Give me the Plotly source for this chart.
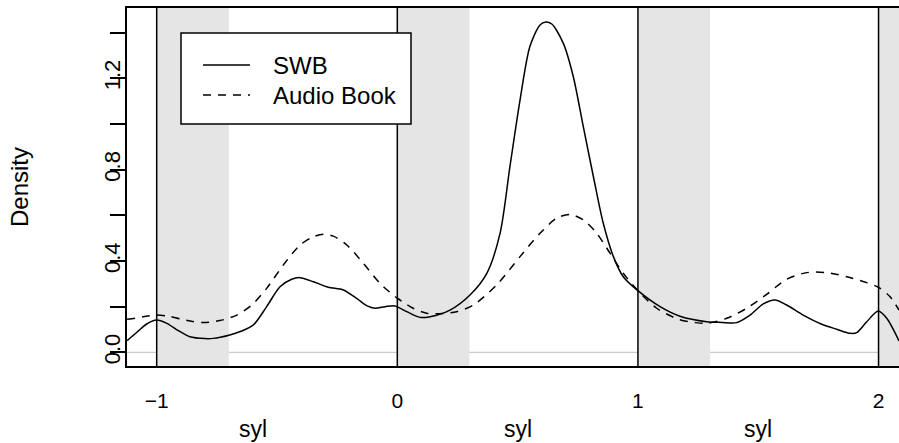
import plotly.graph_objects as go

# ---- data ----
swb_x = [-1.123, -1.08, -1.04, -1.0, -0.96, -0.91, -0.862, -0.80, -0.765, -0.70, -0.65,
         -0.598, -0.543, -0.4875, -0.439, -0.404, -0.349, -0.287, -0.224, -0.169, -0.125,
         -0.093, -0.05, -0.01, 0.039, 0.094, 0.136, 0.219, 0.302, 0.372, 0.427, 0.468,
         0.51, 0.551, 0.593, 0.617, 0.642, 0.69, 0.7315, 0.773, 0.815, 0.856, 0.898,
         0.939, 1.0, 1.092, 1.175, 1.286, 1.35, 1.41, 1.466, 1.521, 1.57, 1.618, 1.687,
         1.764, 1.826, 1.882, 1.909, 1.951, 1.999, 2.034, 2.085]
swb_y = [0.051, 0.09, 0.125, 0.141, 0.128, 0.095, 0.068, 0.060, 0.061, 0.075, 0.092,
         0.12, 0.2, 0.287, 0.32, 0.327, 0.309, 0.285, 0.273, 0.236, 0.203,
         0.193, 0.2, 0.203, 0.178, 0.153, 0.156, 0.185, 0.251, 0.346, 0.521, 0.813,
         1.105, 1.339, 1.434, 1.447, 1.438, 1.353, 1.207, 0.988, 0.769, 0.565, 0.419,
         0.331, 0.27, 0.2, 0.158, 0.134, 0.131, 0.13, 0.163, 0.212, 0.229, 0.207, 0.163,
         0.123, 0.101, 0.083, 0.086, 0.134, 0.181, 0.149, 0.05]

ab_x = [-1.123, -1.09, -1.05, -1.0, -0.95, -0.903, -0.85, -0.806, -0.737, -0.667,
        -0.605, -0.543, -0.474, -0.404, -0.349, -0.307, -0.266, -0.21, -0.141, -0.072,
        0.0, 0.066, 0.122, 0.19, 0.247, 0.316, 0.413, 0.51, 0.593, 0.662, 0.718, 0.773,
        0.829, 0.884, 0.939, 1.0, 1.078, 1.168, 1.24, 1.286, 1.369, 1.452, 1.535, 1.618,
        1.702, 1.785, 1.868, 1.951, 1.999, 2.047, 2.085]
ab_y = [0.145, 0.149, 0.157, 0.163, 0.158, 0.146, 0.135, 0.13, 0.139, 0.163,
        0.207, 0.28, 0.382, 0.47, 0.506, 0.517, 0.509, 0.47, 0.39, 0.302,
        0.237, 0.193, 0.171, 0.17, 0.178, 0.207, 0.295, 0.419, 0.521, 0.587, 0.604, 0.58,
        0.521, 0.434, 0.346, 0.27, 0.193, 0.145, 0.13, 0.127, 0.149, 0.193, 0.254, 0.32,
        0.349, 0.349, 0.331, 0.305, 0.285, 0.244, 0.185]

series_names = ["SWB", "Audio Book"]
syllable_bounds = [-1, 0, 1, 2]
band_width = 0.3
x_tick_vals = [-1, 0, 1, 2]
x_tick_text = ["\u22121", "0", "1", "2"]
y_tick_vals = [0.0, 0.2, 0.4, 0.6, 0.8, 1.0, 1.2, 1.4]
y_tick_text = ["0.0", "", "0.4", "", "0.8", "", "1.2", ""]
syl_label_pos = [-0.6, 0.5, 1.5]
syl_label_text = ["syl", "syl", "syl"]

FONT = "Liberation Sans, Arial, Helvetica, sans-serif"
W, H = 899, 443
ML, MR, MT, MB = 127, 0, 8, 77
PW, PH = W - ML - MR, H - MT - MB


def px_x(p):  # pixel -> paper x
    return (p - ML) / PW


def px_y(p):  # pixel -> paper y
    return (H - MB - p) / PH


dashes = ["solid", "8px,7px"]

fig = go.Figure()
fig.add_trace(go.Scatter(x=swb_x, y=swb_y, mode="lines", name=series_names[0], showlegend=False,
                         line=dict(color="black", width=1.5, dash=dashes[0],
                                   shape="spline", smoothing=0.8)))
fig.add_trace(go.Scatter(x=ab_x, y=ab_y, mode="lines", name=series_names[1], showlegend=False,
                         line=dict(color="black", width=1.5, dash=dashes[1],
                                   shape="spline", smoothing=0.8)))

shapes = []
# grey horizontal reference line at 0 (drawn first, covered by bands)
shapes.append(dict(type="line", xref="x domain", yref="y", x0=0, x1=1, y0=0, y1=0,
                   line=dict(color="#bebebe", width=1), layer="below"))
for b in syllable_bounds:
    shapes.append(dict(type="rect", xref="x", yref="y domain", x0=b, x1=b + band_width,
                       y0=0, y1=1, fillcolor="#e5e5e5", line=dict(width=0), layer="below"))
for b in syllable_bounds:
    shapes.append(dict(type="line", xref="x", yref="y domain", x0=b, x1=b, y0=0, y1=1,
                       line=dict(color="black", width=1.5), layer="below"))

# legend box (R-style) drawn on top
shapes.append(dict(type="rect", xref="paper", yref="paper",
                   x0=px_x(181), x1=px_x(411), y0=px_y(124), y1=px_y(33),
                   fillcolor="white", line=dict(color="black", width=1.5), layer="above"))
annotations = []
for i, (nm, ds) in enumerate(zip(series_names, dashes)):
    yy = px_y(65 + 30 * i)
    shapes.append(dict(type="line", xref="paper", yref="paper",
                       x0=px_x(203), x1=px_x(250), y0=yy, y1=yy,
                       line=dict(color="black", width=1.5, dash=ds), layer="above"))
    annotations.append(dict(x=px_x(271), y=yy, xref="paper", yref="paper", text=nm,
                            showarrow=False, xanchor="left", yanchor="middle",
                            font=dict(family=FONT, size=24, color="black")))

for p, t in zip(syl_label_pos, syl_label_text):
    annotations.append(dict(x=p, y=0, xref="x", yref="paper", text=t, showarrow=False,
                            yanchor="middle", xanchor="center", yshift=-63,
                            font=dict(family=FONT, size=23, color="black")))

fig.update_layout(
    width=W, height=H,
    margin=dict(l=ML, r=MR, t=MT, b=MB),
    plot_bgcolor="white", paper_bgcolor="white",
    shapes=shapes, annotations=annotations,
    font=dict(family=FONT, color="black"),
    showlegend=False,
    xaxis=dict(range=[-1.1234, 2.085], tickvals=x_tick_vals, ticktext=x_tick_text,
               ticks="", showgrid=False, zeroline=False, showline=True, mirror=True,
               linecolor="black", linewidth=2, automargin=False,
               tickfont=dict(family=FONT, size=21, color="black"), ticklabelstandoff=15),
    yaxis=dict(range=[-0.060, 1.508], tickvals=y_tick_vals, ticktext=y_tick_text,
               ticks="outside", ticklen=15, tickwidth=1.5, tickcolor="black",
               tickangle=-90, showgrid=False, zeroline=False, showline=True, mirror=False,
               linecolor="black", linewidth=2, automargin=False,
               tickfont=dict(family=FONT, size=22, color="black"), ticklabelstandoff=-19,
               title=dict(text="Density", standoff=65,
                          font=dict(family=FONT, size=24, color="black"))),
)

fig.write_html("out.html", config={"displayModeBar": False},
               post_script="document.body.style.margin='0';document.body.style.overflow='hidden';")
